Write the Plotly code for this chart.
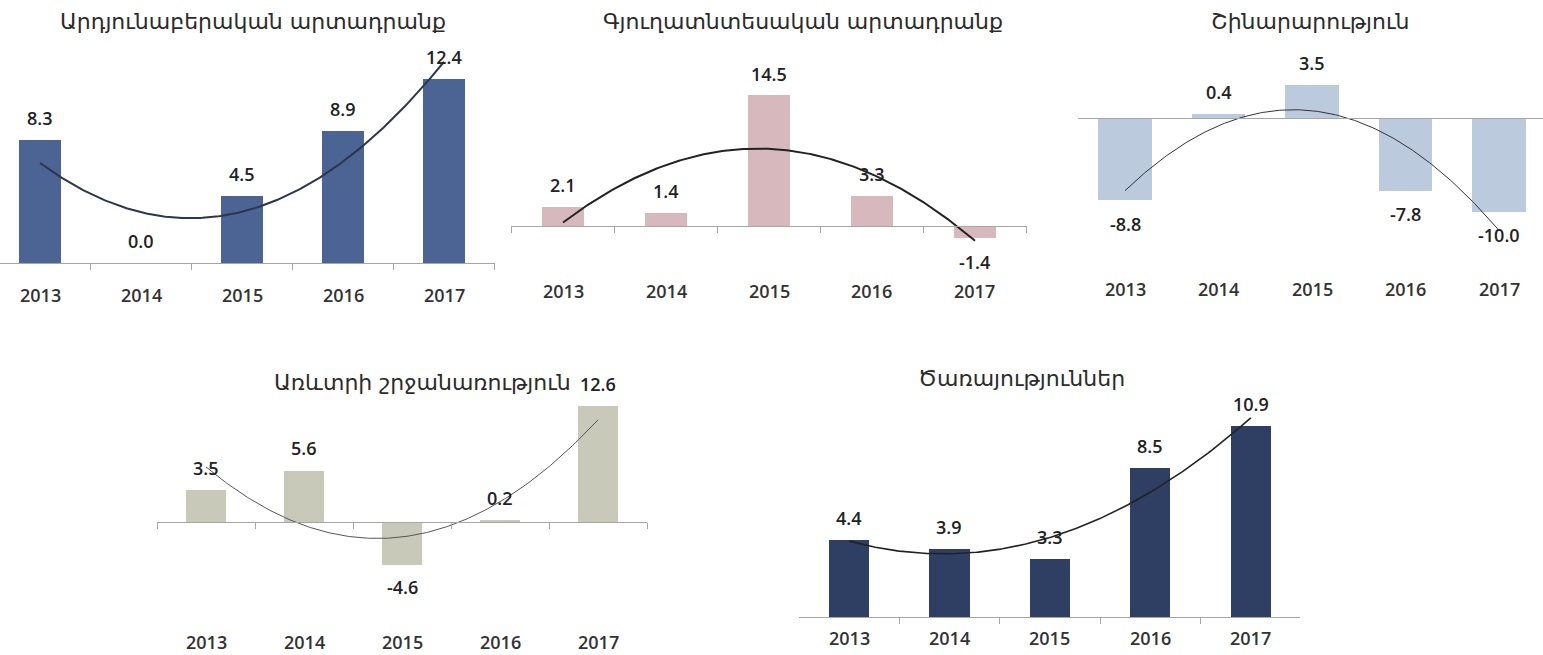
import numpy as np
import plotly.graph_objects as go

# ---------------- data ----------------
years = [2013, 2014, 2015, 2016, 2017]
year_labels = ["2013", "2014", "2015", "2016", "2017"]

titles = [
    "Արդյունաբերական արտադրանք",
    "Գյուղատնտեսական արտադրանք",
    "Շինարարություն",
    "Առևտրի շրջանառություն",
    "Ծառայություններ",
]
industry = [8.3, 0.0, 4.5, 8.9, 12.4]
agriculture = [2.1, 1.4, 14.5, 3.3, -1.4]
construction = [-8.8, 0.4, 3.5, -7.8, -10.0]
trade = [3.5, 5.6, -4.6, 0.2, 12.6]
services = [4.4, 3.9, 3.3, 8.5, 10.9]
series = [industry, agriculture, construction, trade, services]

# ---------------- layout config ----------------
W, H = 1543, 655
panels = [
    dict(xpx=(0, 495), xr=(2012.604, 2017.505), base=263, ppu=14.8, yr=(0, 14.5),
         color="#4b6493", bw=0.41, lw=2.0, lc="#2d3550", ticks=True,
         ylab=295, tx=253, ty=22),
    dict(xpx=(511, 1027), xr=(2012.495, 2017.505), base=226, ppu=8.97, yr=(-2, 15),
         color="#d7b8bd", bw=0.41, lw=2.0, lc="#222222", ticks=True,
         ylab=291, tx=803, ty=22),
    dict(xpx=(1078, 1543), xr=(2012.497, 2017.47), base=118, ppu=9.4, yr=(-12.5, 4),
         color="#bccadd", bw=0.57, lw=1.0, lc="#333333", ticks=False,
         ylab=289, tx=1310, ty=22),
    dict(xpx=(157, 647), xr=(2012.5, 2017.5), base=522, ppu=9.2, yr=(-6, 13.5),
         color="#c9c9ba", bw=0.41, lw=1.0, lc="#555555", ticks=True,
         ylab=642, tx=422, ty=382),
    dict(xpx=(799, 1300), xr=(2012.502, 2017.49), base=617, ppu=17.5, yr=(0, 12.5),
         color="#2f3f63", bw=0.40, lw=1.6, lc="#222222", ticks=True,
         ylab=638, tx=1022, ty=378),
]

NUM_FONT = "Open Sans"
TITLE_FONT = "DejaVu Sans"

fig = go.Figure()
annotations = []
layout_axes = {}

for i, (p, vals, title) in enumerate(zip(panels, series, titles)):
    n = i + 1
    xa = "x" if n == 1 else f"x{n}"
    ya = "y" if n == 1 else f"y{n}"
    xkey = "xaxis" if n == 1 else f"xaxis{n}"
    ykey = "yaxis" if n == 1 else f"yaxis{n}"

    ymin, ymax = p["yr"]
    top_px = p["base"] - ymax * p["ppu"]
    bot_px = p["base"] - ymin * p["ppu"]
    ydom = [1 - bot_px / H, 1 - top_px / H]
    xdom = [p["xpx"][0] / W, p["xpx"][1] / W]
    zero_pos = 1 - p["base"] / H

    fig.add_trace(go.Bar(x=years, y=vals, width=p["bw"], marker_color=p["color"],
                         marker_line_width=0, xaxis=xa, yaxis=ya, showlegend=False,
                         hoverinfo="x+y"))

    # polynomial (2nd order) trendline, as in the source chart
    coef = np.polyfit(years, vals, 2)
    xs = np.linspace(years[0], years[-1], 200)
    fig.add_trace(go.Scatter(x=xs, y=np.polyval(coef, xs), mode="lines",
                             line=dict(color=p["lc"], width=p["lw"]),
                             xaxis=xa, yaxis=ya, showlegend=False, hoverinfo="skip"))

    layout_axes[xkey] = dict(
        domain=xdom, range=list(p["xr"]), anchor="free", position=zero_pos,
        showgrid=False, zeroline=False, showline=True, linecolor="#a6a6a6", linewidth=1,
        showticklabels=False,
        tickvals=[y + 0.5 for y in [years[0] - 1] + years],
        ticks="outside" if p["ticks"] else "", ticklen=6, tickcolor="#a6a6a6",
        fixedrange=True,
    )
    layout_axes[ykey] = dict(
        domain=ydom, range=[ymin, ymax], anchor=xa, visible=False, fixedrange=True,
    )

    # value labels
    for yv, v in zip(years, vals):
        annotations.append(dict(
            x=yv, y=v, xref=xa, yref=ya, text=f"{v:.1f}", showarrow=False,
            yanchor="middle", yshift=22 if v >= 0 else -23,
            font=dict(family=NUM_FONT, size=18, color="#222222", weight=600),
        ))
    # year labels
    for yv, lab in zip(years, year_labels):
        annotations.append(dict(
            x=yv, y=1 - p["ylab"] / H, xref=xa, yref="paper", text=lab, showarrow=False,
            yanchor="middle",
            font=dict(family=NUM_FONT, size=18, color="#333333", weight=600),
        ))
    # title
    annotations.append(dict(
        x=p["tx"] / W, y=1 - p["ty"] / H, xref="paper", yref="paper", text=title,
        showarrow=False, xanchor="center", yanchor="middle",
        font=dict(family=TITLE_FONT, size=22, color="#2b2b2b"),
    ))

fig.update_layout(
    width=W, height=H, margin=dict(l=0, r=0, t=0, b=0),
    paper_bgcolor="white", plot_bgcolor="rgba(0,0,0,0)",
    annotations=annotations, bargap=0, **layout_axes,
)

fig.write_html("out.html", config={"displayModeBar": False},
               post_script="document.body.style.margin='0';document.body.style.overflow='hidden';")
